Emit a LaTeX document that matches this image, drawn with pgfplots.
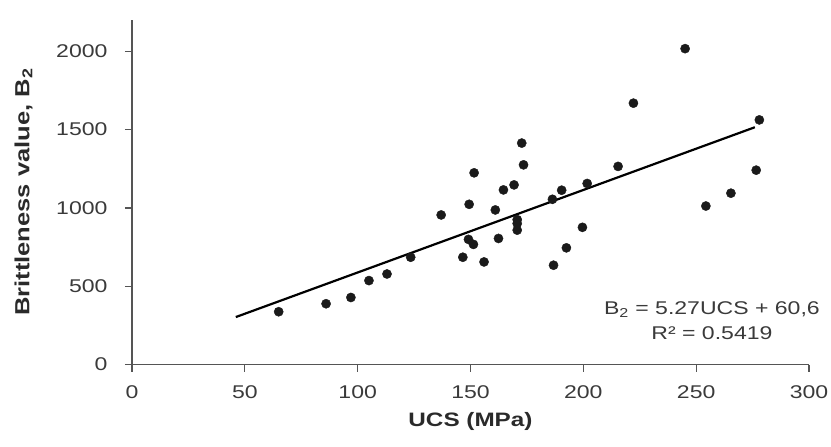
\documentclass[border=0pt]{standalone}
\usepackage{fontspec}
\setmainfont{Liberation Sans}[FakeStretch=1.25]
\usepackage{pgfplots}
\pgfplotsset{compat=1.18}
\definecolor{axgray}{HTML}{555555}
\definecolor{txtgray}{HTML}{3A3A3A}
\definecolor{lbl}{HTML}{2A2A2A}
\definecolor{dotblack}{HTML}{1A1A1A}
\begin{document}
\begin{tikzpicture}
\path[use as bounding box] (-132bp,-82.5bp) rectangle (699bp,344.5bp+20bp);
\begin{axis}[
  scale only axis,
  width=677bp, height=344.5bp,
  xmin=0, xmax=300, ymin=0, ymax=2200,
  axis x line=bottom, axis y line=left,
  axis line style={axgray, line width=1.2bp, -},
  xtick={0,50,...,300}, ytick={0,500,...,2000},
  tick align=outside, major tick length=7bp,
  tick style={axgray, line width=1.2bp},
  /pgf/number format/assume math mode=true,
  /pgf/number format/set thousands separator={},
  ticklabel style={font=\fontsize{18.5}{20}\selectfont, text=txtgray},
  xticklabel style={yshift=-11bp},
  yticklabel style={xshift=-14bp},
  label style={text=lbl},
  xlabel={UCS (MPa)},
  ylabel={Brittleness value, B\textsubscript{2}},
  xlabel style={font=\fontsize{19.5}{22}\selectfont\bfseries, at={(axis description cs:0.5,0)}, anchor=north, yshift=-44bp},
  ylabel style={font=\fontsize{20.5}{22}\selectfont\bfseries, at={(axis description cs:0,0.5)}, anchor=south, yshift=96bp},
  clip=false,
]
\addplot[only marks, mark=*, mark size=4.6bp, mark options={fill=dotblack, draw=dotblack}] coordinates {
(65,337) (86,388) (97,428) (105,536) (113,578) (123.5,685) (137,955)
(146.6,685) (149.4,1023) (149.1,799) (151.3,767) (151.6,1224) (156,655)
(162.4,805) (161,987) (164.6,1115) (169.3,1147) (170.7,925) (170.7,900)
(170.7,858) (172.7,1414) (173.5,1275) (186.8,634) (186.3,1055) (190.4,1113)
(192.5,745) (199.6,876) (201.7,1156) (215.4,1265) (222.2,1669) (245.1,2017)
(254.3,1012) (265.4,1094) (276.6,1241) (278,1562)
};
\addplot[black, line width=2.2bp] coordinates {(46,303) (276,1515.1)};
\node[align=center, text=txtgray, font=\fontsize{18.5}{25}\selectfont] at (axis cs:257,282) {B\textsubscript{2} = 5.27UCS + 60,6\\R² = 0.5419};
\end{axis}
\end{tikzpicture}
\end{document}
